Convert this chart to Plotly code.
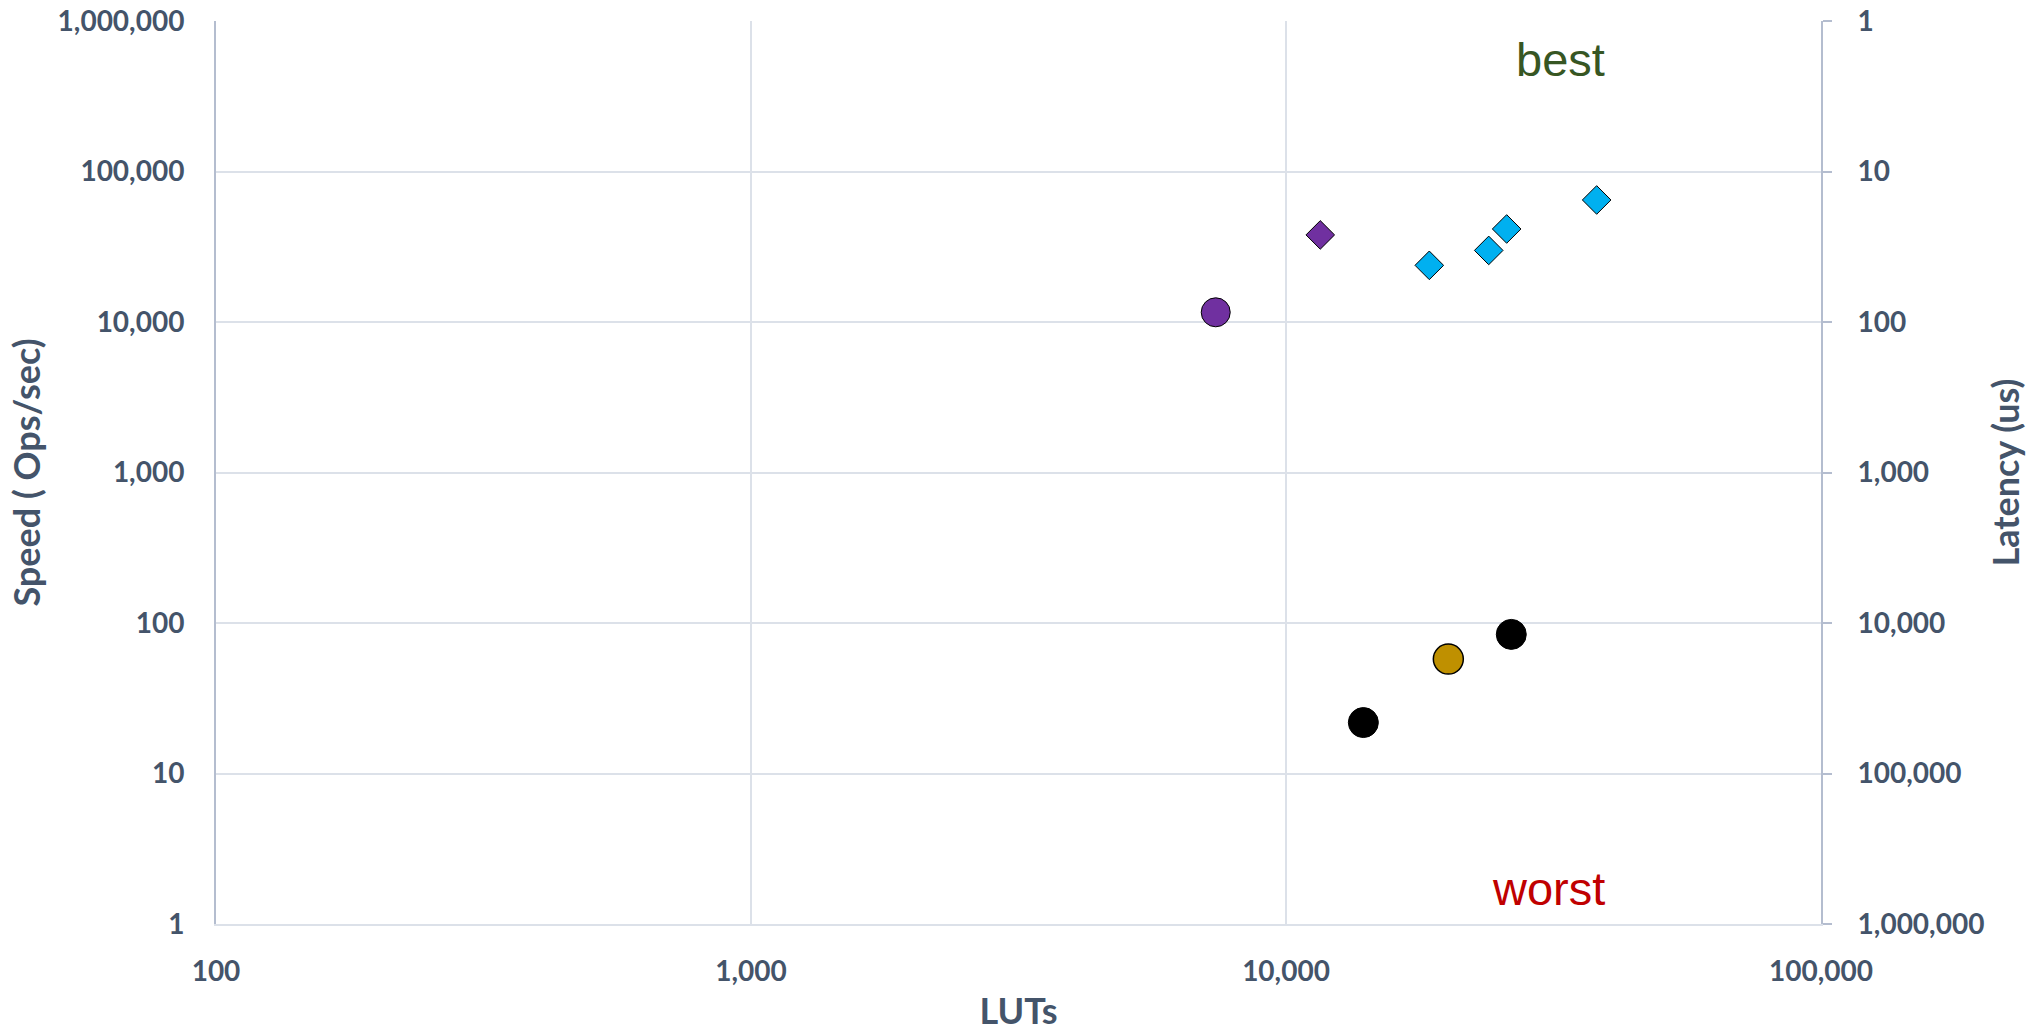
import plotly.graph_objects as go

# ---- data ----
purple_circle_luts = [7390]
purple_circle_speed = [11600]

purple_diamond_luts = [11590]
purple_diamond_speed = [37900]

blue_diamond_luts = [18530, 23930, 25850, 38080]
blue_diamond_speed = [23800, 29900, 41500, 64700]

black_circle_luts = [13950, 26370]
black_circle_speed = [21.8, 84]

gold_circle_luts = [20110]
gold_circle_speed = [57.6]

x_tickvals = [100, 1000, 10000, 100000]
x_ticktext = ["100", "1,000", "10,000", "100,000"]
y_tickvals = [1, 10, 100, 1000, 10000, 100000, 1000000]
y_ticktext = ["1", "10", "100", "1,000", "10,000", "100,000", "1,000,000"]
lat_tickvals = [1, 10, 100, 1000, 10000, 100000, 1000000]
lat_ticktext = ["1", "10", "100", "1,000", "10,000", "100,000", "1,000,000"]

# ---- style ----
LABEL = "#44546A"
GRID = "#DCE1E9"
AXIS = "#B4BDCF"
FONT = "Lato"

fig = go.Figure()

def add(xs, ys, color, symbol, size, lw=1):
    fig.add_trace(go.Scatter(
        x=xs, y=ys, mode="markers",
        marker=dict(color=color, symbol=symbol, size=size,
                    line=dict(color="black", width=lw)),
        showlegend=False, hoverinfo="x+y"))

add(purple_circle_luts, purple_circle_speed, "#7030A0", "circle", 29)
add(purple_diamond_luts, purple_diamond_speed, "#7030A0", "diamond", 22)
add(blue_diamond_luts, blue_diamond_speed, "#00B0F0", "diamond", 22)
add(black_circle_luts, black_circle_speed, "#000000", "circle", 30)
add(gold_circle_luts, gold_circle_speed, "#BF9000", "circle", 30, lw=1.5)

# hidden trace on the latency axis so it is drawn
all_speed = (purple_circle_speed + purple_diamond_speed + blue_diamond_speed
             + black_circle_speed + gold_circle_speed)
all_luts = (purple_circle_luts + purple_diamond_luts + blue_diamond_luts
            + black_circle_luts + gold_circle_luts)
fig.add_trace(go.Scatter(
    x=all_luts, y=[1e6 / s for s in all_speed], yaxis="y2", mode="markers",
    marker=dict(opacity=0), showlegend=False, hoverinfo="skip"))

tickfont = dict(family=FONT, size=28, color=LABEL, weight="bold")
titlefont = dict(family=FONT, size=36, color=LABEL, weight="bold")

fig.update_layout(
    width=2038, height=1032,
    margin=dict(l=216, r=217, t=21, b=108, autoexpand=False),
    paper_bgcolor="white", plot_bgcolor="white",
    showlegend=False,
    xaxis=dict(
        type="log", range=[2, 5], automargin=False,
        tickvals=x_tickvals, ticktext=x_ticktext, tickfont=tickfont,
        showgrid=True, gridcolor=GRID, gridwidth=1.5,
        showline=True, linecolor=GRID, linewidth=1.5,
        ticks="", ticklabelstandoff=22,
        title=dict(text="LUTs", font=titlefont, standoff=20),
        zeroline=False,
    ),
    yaxis=dict(
        type="log", range=[0, 6], automargin=False,
        tickvals=y_tickvals, ticktext=y_ticktext, tickfont=tickfont,
        showgrid=True, gridcolor=GRID, gridwidth=1.5,
        showline=True, linecolor=AXIS, linewidth=2,
        ticks="", ticklabelstandoff=24,
        title=dict(text="Speed ( Ops/sec)", font=titlefont, standoff=6),
        zeroline=False,
    ),
    yaxis2=dict(
        type="log", range=[6, 0], overlaying="y", side="right", automargin=False,
        tickvals=lat_tickvals, ticktext=lat_ticktext, tickfont=tickfont,
        showgrid=False,
        showline=True, linecolor=AXIS, linewidth=2,
        ticks="outside", ticklen=9, tickcolor=AXIS, tickwidth=1.5,
        ticklabelstandoff=20,
        title=dict(text="Latency (us)", font=titlefont, standoff=10),
        zeroline=False,
    ),
    annotations=[
        dict(text="best", xref="paper", yref="paper", x=0.838, y=0.957,
             xanchor="center", yanchor="middle", showarrow=False,
             font=dict(family="Liberation Sans", size=47, color="#375623")),
        dict(text="worst", xref="paper", yref="paper", x=0.83, y=0.039,
             xanchor="center", yanchor="middle", showarrow=False,
             font=dict(family="Liberation Sans", size=47, color="#C00000")),
    ],
)

fig.write_html("out.html")
